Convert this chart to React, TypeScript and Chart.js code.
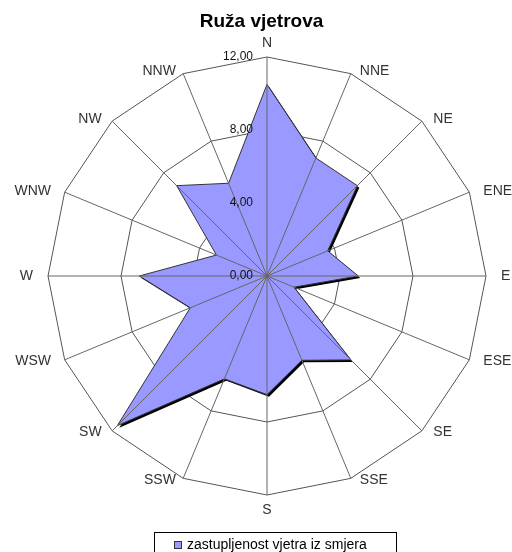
import { useEffect, useRef } from "react";
import { Chart, registerables } from "chart.js";

Chart.register(...registerables);

const directions = ["N", "NNE", "NE", "ENE", "E", "ESE", "SE", "SSE", "S", "SSW", "SW", "WSW", "W", "WNW", "NW", "NNW"];
const frequency = [10.5, 7.0, 7.0, 3.6, 5.0, 1.6, 6.5, 5.0, 6.5, 6.1, 11.6, 4.55, 7.0, 3.0, 7.0, 5.5];
const tickValues = [0, 4, 8, 12];
const titleText = "Ruža vjetrova";
const seriesName = "zastupljenost vjetra iz smjera";

const FONT = "Arial, 'Liberation Sans', sans-serif";
const FILL = "#9999FF";

const fmt = (v: number) => v.toFixed(2).replace(".", ",");

const decor = {
  id: "decor",
  beforeDatasetsDraw(chart: any) {
    const meta = chart.getDatasetMeta(0);
    const ctx = chart.ctx;
    ctx.save();
    ctx.beginPath();
    meta.data.forEach((p: any, i: number) => {
      const x = p.x + 2;
      const y = p.y + 2;
      if (i === 0) ctx.moveTo(x, y);
      else ctx.lineTo(x, y);
    });
    ctx.closePath();
    ctx.fillStyle = "#000";
    ctx.fill();
    ctx.restore();
  },
  afterDatasetsDraw(chart: any) {
    const scale = chart.scales.r;
    const ctx = chart.ctx;
    ctx.save();
    ctx.strokeStyle = "#666";
    ctx.lineWidth = 1;
    const outer = scale.getDistanceFromCenterForValue(scale.max);
    for (let i = 0; i < directions.length; i++) {
      const p = scale.getPointPosition(i, outer);
      ctx.beginPath();
      ctx.moveTo(scale.xCenter, scale.yCenter);
      ctx.lineTo(p.x, p.y);
      ctx.stroke();
    }
    // tick labels, left of the north axis
    ctx.font = `12px ${FONT}`;
    ctx.fillStyle = "#111";
    ctx.textAlign = "right";
    ctx.textBaseline = "middle";
    tickValues.forEach((v) => {
      const d = scale.getDistanceFromCenterForValue(v);
      ctx.fillText(fmt(v), scale.xCenter - 14, scale.yCenter - d);
    });
    // direction labels
    ctx.font = `14px ${FONT}`;
    ctx.fillStyle = "#333";
    ctx.textBaseline = "middle";
    directions.forEach((lab, i) => {
      const p = scale.getPointPosition(i, outer);
      const ang = (i / directions.length) * Math.PI * 2;
      const s = Math.sin(ang);
      const c = Math.cos(ang);
      let x = p.x;
      let y = p.y;
      if (Math.abs(s) < 1e-6) {
        ctx.textAlign = "center";
        y += c > 0 ? -14 : 15;
      } else if (s > 0) {
        ctx.textAlign = "left";
        x += 8 + 7 * s * s;
        y += -2.2 * c;
      } else {
        ctx.textAlign = "right";
        x -= 6 + 9 * s * s;
        y += -2.2 * c;
      }
      ctx.fillText(lab, x, y);
    });
    ctx.restore();
  },
  afterDraw(chart: any) {
    const ctx = chart.ctx;
    ctx.save();
    ctx.font = `bold 19px ${FONT}`;
    ctx.fillStyle = "#000";
    ctx.textAlign = "center";
    ctx.textBaseline = "alphabetic";
    ctx.fillText(titleText, 261.5, 27);

    ctx.strokeStyle = "#000";
    ctx.lineWidth = 1;
    ctx.strokeRect(154.5, 532.5, 242, 30);
    ctx.fillStyle = FILL;
    ctx.fillRect(174, 541, 8, 8);
    ctx.strokeStyle = "#333";
    ctx.strokeRect(174.5, 541.5, 7, 7);
    ctx.fillStyle = "#000";
    ctx.font = `14px ${FONT}`;
    ctx.textAlign = "left";
    ctx.textBaseline = "middle";
    ctx.fillText(seriesName, 187, 545);
    ctx.restore();
  },
};

export default function App() {
  const ref = useRef<HTMLCanvasElement | null>(null);
  useEffect(() => {
    if (!ref.current) return;
    const chart = new Chart(ref.current, {
      type: "radar",
      data: {
        labels: directions,
        datasets: [
          {
            label: seriesName,
            data: frequency,
            backgroundColor: FILL,
            borderColor: "#333",
            borderWidth: 1,
            fill: true,
            pointRadius: 0,
            pointHoverRadius: 0,
          },
        ],
      },
      options: {
        responsive: false,
        animation: false,
        devicePixelRatio: 1,
        layout: { padding: { left: 48, right: 26, top: 57, bottom: 57 } },
        plugins: {
          legend: { display: false },
          title: { display: false },
          tooltip: { enabled: false },
        },
        elements: { line: { tension: 0 } },
        scales: {
          r: {
            min: 0,
            max: 12,
            ticks: { display: false, stepSize: 4 },
            grid: { color: "#555", lineWidth: 1 },
            angleLines: { display: false },
            pointLabels: { display: false },
          },
        },
      },
      plugins: [decor],
    });
    return () => chart.destroy();
  }, []);
  return (
    <div style={{ position: "absolute", left: 0, top: 0, width: 512, height: 552, background: "#fff" }}>
      <canvas ref={ref} width={512} height={552} />
    </div>
  );
}
